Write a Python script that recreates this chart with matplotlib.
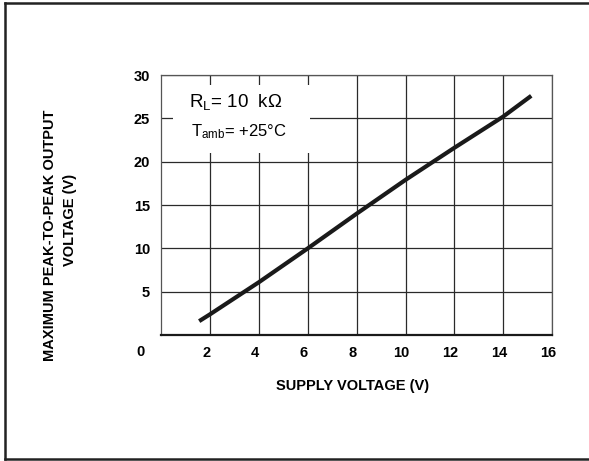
import matplotlib
matplotlib.use("Agg")
import matplotlib.pyplot as plt
from matplotlib.patches import Rectangle
from matplotlib.lines import Line2D
from matplotlib.transforms import ScaledTranslation

# values
supply_v = [1.55, 2, 4, 6, 8, 10, 12, 14, 15.15]
vout_pp = [1.6, 2.4, 6.1, 10, 14, 17.9, 21.6, 25.2, 27.6]

x_ticks = [2, 4, 6, 8, 10, 12, 14, 16]
y_ticks = [5, 10, 15, 20, 25, 30]

plt.rcParams["font.family"] = ["Liberation Sans Narrow", "Liberation Sans", "DejaVu Sans"]
plt.rcParams["font.weight"] = "bold"
plt.rcParams["mathtext.default"] = "regular"

fig = plt.figure(figsize=(5.89, 4.61), dpi=100)
ax = fig.add_axes([0.2739, 0.2733, 0.6633, 0.564])

ax.plot(supply_v, vout_pp, "-", color="#1a1a1a", lw=3.0, solid_capstyle="butt", zorder=4)

ax.set_xlim(0, 16)
ax.set_ylim(0, 30)
ax.set_xticks(x_ticks)
ax.set_yticks(y_ticks)
ax.grid(True, color="#2a2a2a", lw=0.9)
ax.set_axisbelow(True)
ax.tick_params(length=0, labelsize=10.5, pad=8)
for lab in ax.get_xticklabels():
    lab.set_transform(lab.get_transform() + ScaledTranslation(-0.04, 0, fig.dpi_scale_trans))

for s in ["top", "right", "left"]:
    ax.spines[s].set_color("#555555")
    ax.spines[s].set_linewidth(0.9)
ax.spines["bottom"].set_color("#1a1a1a")
ax.spines["bottom"].set_linewidth(1.6)

# white box behind the conditions text
ax.add_patch(Rectangle((0.49, 21.0), 5.6, 7.85, facecolor="white", edgecolor="none", zorder=2.5))
ax.text(1.15, 26.9, r"R$_L$= 10  kΩ", fontsize=13.5, fontweight="normal", va="center", zorder=5)
ax.text(1.2, 23.5, r"T$_{amb}$= +25°C", fontsize=12, fontweight="normal", va="center", zorder=5)

fig.text(0.2377, 0.2371, "0", fontsize=10.5, ha="center", va="center")
fig.text(0.5993, 0.1627, "SUPPLY VOLTAGE (V)", fontsize=10.5, ha="center", va="center")
fig.text(0.0849, 0.4902, "MAXIMUM PEAK-TO-PEAK OUTPUT", fontsize=10.5, rotation=90, ha="center", va="center")
fig.text(0.1188, 0.5228, "VOLTAGE (V)", fontsize=10.5, rotation=90, ha="center", va="center")

# outer frame (left, top, bottom)
x0, y0, y1 = 5 / 589, 2.5 / 461, 1 - 3.5 / 461
for xs, ys in [([x0, x0], [y0, y1]), ([x0, 1.0], [y1, y1]), ([x0, 1.0], [y0, y0])]:
    fig.lines.append(Line2D(xs, ys, transform=fig.transFigure, color="#222222", lw=1.8))

fig.savefig("out.png", dpi=100)
